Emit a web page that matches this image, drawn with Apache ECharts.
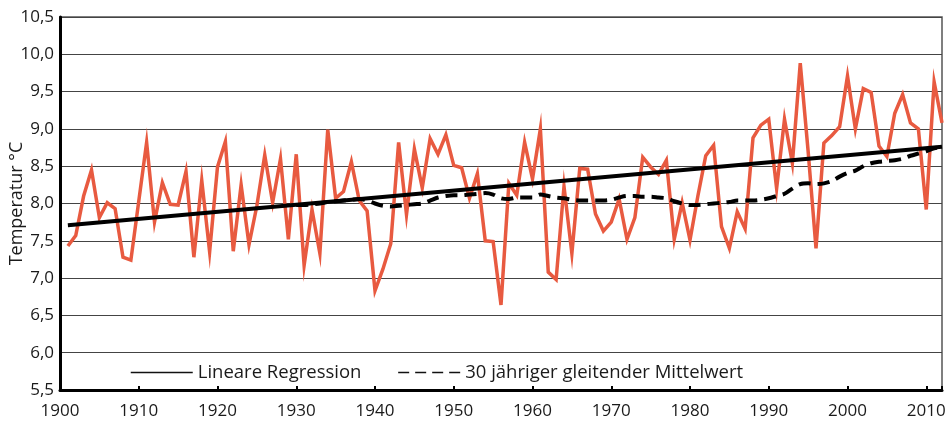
<!DOCTYPE html>
<html>
<head>
<meta charset="utf-8">
<script src="https://cdn.jsdelivr.net/npm/echarts@6/dist/echarts.min.js"></script>
<style>
  html, body { margin: 0; padding: 0; background: #fff; }
  #chart { width: 948px; height: 426px; }
</style>
</head>
<body>
<div id="chart"></div>
<script>
// Annual mean temperature, 1901–2012 (°C)
const firstYear = 1901;
const annualTemps = [
  7.43, 7.57, 8.10, 8.45, 7.81, 8.01, 7.93, 7.28, 7.24, 8.03,
  8.82, 7.75, 8.28, 7.99, 7.98, 8.43, 7.28, 8.31, 7.35, 8.49,
  8.83, 7.36, 8.25, 7.45, 7.97, 8.65, 8.01, 8.60, 7.52, 8.66,
  7.17, 7.92, 7.33, 8.99, 8.07, 8.16, 8.56, 8.04, 7.90, 6.83,
  7.12, 7.46, 8.82, 7.85, 8.73, 8.21, 8.87, 8.66, 8.92, 8.51,
  8.48, 8.07, 8.40, 7.50, 7.49, 6.64, 8.27, 8.11, 8.82, 8.33,
  9.00, 7.08, 6.98, 8.23, 7.33, 8.47, 8.46, 7.86, 7.63, 7.75,
  8.06, 7.52, 7.81, 8.62, 8.49, 8.39, 8.58, 7.52, 8.01, 7.51,
  8.10, 8.64, 8.78, 7.69, 7.40, 7.89, 7.66, 8.88, 9.05, 9.13,
  8.20, 9.13, 8.54, 9.88, 8.70, 7.40, 8.81, 8.91, 9.03, 9.71,
  9.00, 9.54, 9.49, 8.77, 8.63, 9.21, 9.46, 9.08, 9.00, 7.92,
  9.63, 9.08
];

// Linear regression line (end points)
const regressionYears = [1901, 2012];
const regressionValues = [7.71, 8.76];

// 30-year moving mean, 1930–2012
const meanStartYear = 1930;
const movingMean = [
  7.98, 7.98, 7.99, 8.00, 8.02, 8.03, 8.04, 8.05, 8.06, 8.04,
  8.00, 7.97, 7.96, 7.97, 7.98, 7.99, 8.00, 8.04, 8.08, 8.10,
  8.11, 8.11, 8.12, 8.13, 8.14, 8.12, 8.07, 8.06, 8.08, 8.08,
  8.08, 8.12, 8.10, 8.08, 8.07, 8.05, 8.04, 8.04, 8.04, 8.04,
  8.05, 8.08, 8.10, 8.10, 8.09, 8.09, 8.08, 8.07, 8.03, 8.00,
  7.98, 7.98, 7.99, 8.00, 8.01, 8.02, 8.04, 8.04, 8.04, 8.05,
  8.07, 8.10, 8.13, 8.20, 8.26, 8.27, 8.26, 8.27, 8.30, 8.36,
  8.41, 8.44, 8.50, 8.54, 8.56, 8.57, 8.58, 8.60, 8.64, 8.67,
  8.70, 8.74, 8.76
];

const legendNames = ['Lineare Regression', '30 jähriger gleitender Mittelwert'];
const yAxisTitle = 'Temperatur °C';

const tempPoints = annualTemps.map((v, i) => [firstYear + i, v]);
const regressionPoints = regressionYears.map((y, i) => [y, regressionValues[i]]);
const meanPoints = movingMean.map((v, i) => [meanStartYear + i, v]);

const FONT = 'Open Sans';
const TEXT = '#1a1a1a';
const hiddenSymbol = { color: 'rgba(0,0,0,0)', borderColor: 'rgba(0,0,0,0)', borderWidth: 0 };

const chart = echarts.init(document.getElementById('chart'), null, { renderer: 'canvas' });
chart.setOption({
  animation: false,
  backgroundColor: '#fff',
  grid: {
    left: 60, right: 6, top: 17, bottom: 36,
    containLabel: false,
    outerBoundsMode: 'none',
    show: true, borderColor: '#555', borderWidth: 1.5
  },
  legend: {
    left: 130, top: 363,
    padding: 0,
    itemWidth: 62, itemHeight: 14, itemGap: 36,
    textStyle: { fontFamily: FONT, fontSize: 18.5, color: TEXT },
    data: [
      { name: legendNames[0], itemStyle: hiddenSymbol, lineStyle: { width: 1.5, color: '#111' } },
      { name: legendNames[1], itemStyle: hiddenSymbol, lineStyle: { width: 1.5, color: '#111', type: [11, 6] } }
    ]
  },
  xAxis: {
    type: 'value',
    min: 1900, max: 2012, interval: 10,
    axisLine: { lineStyle: { color: '#000', width: 3 } },
    axisTick: { inside: true, length: 4, lineStyle: { color: '#000', width: 2 } },
    axisLabel: {
      margin: 13,
      fontFamily: FONT, fontSize: 17, color: TEXT,
      formatter: v => (v % 10 === 0 ? String(v) : '')
    },
    splitLine: { show: false }
  },
  yAxis: {
    type: 'value',
    min: 5.5, max: 10.5, interval: 0.5,
    name: yAxisTitle,
    nameLocation: 'middle',
    nameRotate: 90,
    nameGap: 34,
    nameMoveOverlap: false,
    nameTextStyle: { fontFamily: FONT, fontSize: 18, color: TEXT },
    axisLine: { show: true, lineStyle: { color: '#000', width: 3 } },
    axisTick: { show: false },
    axisLabel: {
      margin: 6,
      fontFamily: FONT, fontSize: 17, color: TEXT,
      formatter: v => v.toFixed(1).replace('.', ',')
    },
    splitLine: { lineStyle: { color: '#444', width: 1 } }
  },
  series: [
    {
      name: 'Jahresmittel',
      type: 'line',
      data: tempPoints,
      symbol: 'none',
      lineStyle: { color: '#e85a40', width: 3.5, join: 'miter' },
      z: 2
    },
    {
      name: legendNames[0],
      type: 'line',
      data: regressionPoints,
      symbol: 'none',
      lineStyle: { color: '#000', width: 4 },
      itemStyle: { color: '#000' },
      z: 3
    },
    {
      name: legendNames[1],
      type: 'line',
      data: meanPoints,
      symbol: 'none',
      smooth: 0.3,
      lineStyle: { color: '#000', width: 4, type: [12, 7] },
      itemStyle: { color: '#000' },
      z: 4
    }
  ]
});
</script>
</body>
</html>
